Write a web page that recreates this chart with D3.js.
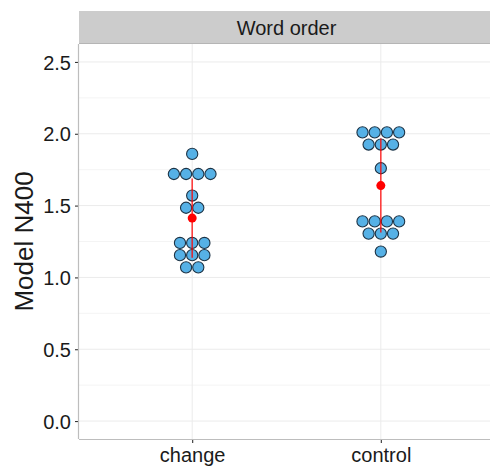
<!DOCTYPE html>
<html>
<head>
<meta charset="utf-8">
<script src="https://cdn.jsdelivr.net/npm/d3@7"></script>
<style>
  html, body { margin: 0; padding: 0; background: #fff; }
  svg { display: block; font-family: "Liberation Sans", Arial, Helvetica, sans-serif; }
</style>
</head>
<body>
<svg id="chart" width="490" height="468"></svg>
<script>
// Conditions on the x axis and the facet title
const categories = ["change", "control"];
const facetTitle = "Word order";
const yTitle = "Model N400";

// One value per participant (each value is one dot)
const changeN400 = [1.86, 1.72, 1.72, 1.72, 1.72, 1.57, 1.485, 1.485,
                    1.24, 1.24, 1.24, 1.155, 1.155, 1.155, 1.07, 1.07];
const controlN400 = [2.01, 2.01, 2.01, 2.01, 1.925, 1.925, 1.925, 1.76,
                     1.39, 1.39, 1.39, 1.39, 1.305, 1.305, 1.305, 1.18];

// Y axis ticks
const yTicks = [0, 0.5, 1.0, 1.5, 2.0, 2.5];
const yMinorTicks = [0.25, 0.75, 1.25, 1.75, 2.25];

const seriesByCategory = { change: changeN400, control: controlN400 };
const binwidth = 0.085;

const svg = d3.select("#chart");
const panel = { left: 79, right: 494, top: 44, bottom: 439 };
const strip = { top: 11, bottom: 44 };

const y = d3.scaleLinear()
  .domain([-0.125, 2.625])
  .range([panel.bottom, panel.top]);

// discrete axis with 0.6 expansion on each side
const x = d3.scalePoint()
  .domain(categories)
  .range([panel.left, panel.right])
  .padding(0.6);

// strip
svg.append("rect")
  .attr("x", panel.left).attr("y", strip.top)
  .attr("width", panel.right - panel.left).attr("height", strip.bottom - strip.top)
  .attr("fill", "#cccccc");
svg.append("line")
  .attr("x1", panel.left).attr("x2", panel.right)
  .attr("y1", strip.bottom - 0.5).attr("y2", strip.bottom - 0.5)
  .attr("stroke", "#b5b5b5").attr("stroke-width", 1);
svg.append("text")
  .attr("x", (panel.left + panel.right) / 2)
  .attr("y", (strip.top + strip.bottom) / 2 + 7)
  .attr("text-anchor", "middle")
  .attr("font-size", 20)
  .attr("fill", "#1a1a1a")
  .text(facetTitle);

// grid
const grid = svg.append("g");
grid.selectAll("line.minor").data(yMinorTicks).join("line")
  .attr("x1", panel.left).attr("x2", panel.right)
  .attr("y1", d => y(d)).attr("y2", d => y(d))
  .attr("stroke", "#f4f4f4").attr("stroke-width", 1);
grid.selectAll("line.major").data(yTicks).join("line")
  .attr("x1", panel.left).attr("x2", panel.right)
  .attr("y1", d => y(d)).attr("y2", d => y(d))
  .attr("stroke", "#ebebeb").attr("stroke-width", 1);
grid.selectAll("line.vx").data(categories).join("line")
  .attr("x1", d => x(d)).attr("x2", d => x(d))
  .attr("y1", panel.top).attr("y2", panel.bottom)
  .attr("stroke", "#ebebeb").attr("stroke-width", 1);

// axes
const yAxis = svg.append("g")
  .attr("transform", `translate(${panel.left},0)`)
  .call(d3.axisLeft(y).tickValues(yTicks).tickFormat(d3.format(".1f")).tickSize(4).tickPadding(4));
const xAxis = svg.append("g")
  .attr("transform", `translate(0,${panel.bottom})`)
  .call(d3.axisBottom(x).tickSize(4).tickPadding(5));
[yAxis, xAxis].forEach(g => {
  g.select(".domain").remove();
  g.selectAll(".tick line").attr("stroke", "#333").attr("stroke-width", 1.1);
  g.selectAll(".tick text").attr("fill", "#1a1a1a").attr("font-size", 20)
    .attr("font-family", "Liberation Sans, Arial, sans-serif");
});
xAxis.selectAll(".tick text").attr("dy", "0.68em");
yAxis.selectAll(".tick text").attr("dy", "0.36em");

// axis lines
svg.append("line")
  .attr("x1", panel.left - 0.5).attr("x2", panel.left - 0.5)
  .attr("y1", panel.top).attr("y2", panel.bottom)
  .attr("stroke", "#bdbdbd").attr("stroke-width", 1.2);
svg.append("line")
  .attr("x1", panel.left).attr("x2", panel.right)
  .attr("y1", panel.bottom + 0.5).attr("y2", panel.bottom + 0.5)
  .attr("stroke", "#bdbdbd").attr("stroke-width", 1.2);

// y title
svg.append("text")
  .attr("transform", `translate(33,${(panel.top + panel.bottom) / 2}) rotate(-90)`)
  .attr("text-anchor", "middle")
  .attr("font-size", 26)
  .attr("fill", "#1a1a1a")
  .text(yTitle);

// dots: equal values stack sideways, centred on the category
const dotD = Math.abs(y(binwidth) - y(0));
const dots = [];
categories.forEach(cat => {
  const groups = d3.groups(seriesByCategory[cat], v => v);
  groups.forEach(([v, arr]) => {
    arr.forEach((_, i) => {
      dots.push({ cat, v, off: (i - (arr.length - 1) / 2) * dotD });
    });
  });
});
svg.append("g").selectAll("circle").data(dots).join("circle")
  .attr("cx", d => x(d.cat) + d.off)
  .attr("cy", d => y(d.v))
  .attr("r", dotD / 2 - 0.5)
  .attr("fill", "#56b1e6")
  .attr("stroke", "#1d3345")
  .attr("stroke-width", 1.1);

// mean ± SD
const summary = categories.map(cat => {
  const vals = seriesByCategory[cat];
  const m = d3.mean(vals), s = d3.deviation(vals);
  return { cat, m, lo: m - s, hi: m + s };
});
const sg = svg.append("g");
sg.selectAll("line").data(summary).join("line")
  .attr("x1", d => x(d.cat)).attr("x2", d => x(d.cat))
  .attr("y1", d => y(d.lo)).attr("y2", d => y(d.hi))
  .attr("stroke", "#ff0000").attr("stroke-opacity", 0.8).attr("stroke-width", 1.5);
sg.selectAll("circle").data(summary).join("circle")
  .attr("cx", d => x(d.cat)).attr("cy", d => y(d.m))
  .attr("r", 4.5)
  .attr("fill", "#ff0000");
</script>
</body>
</html>
